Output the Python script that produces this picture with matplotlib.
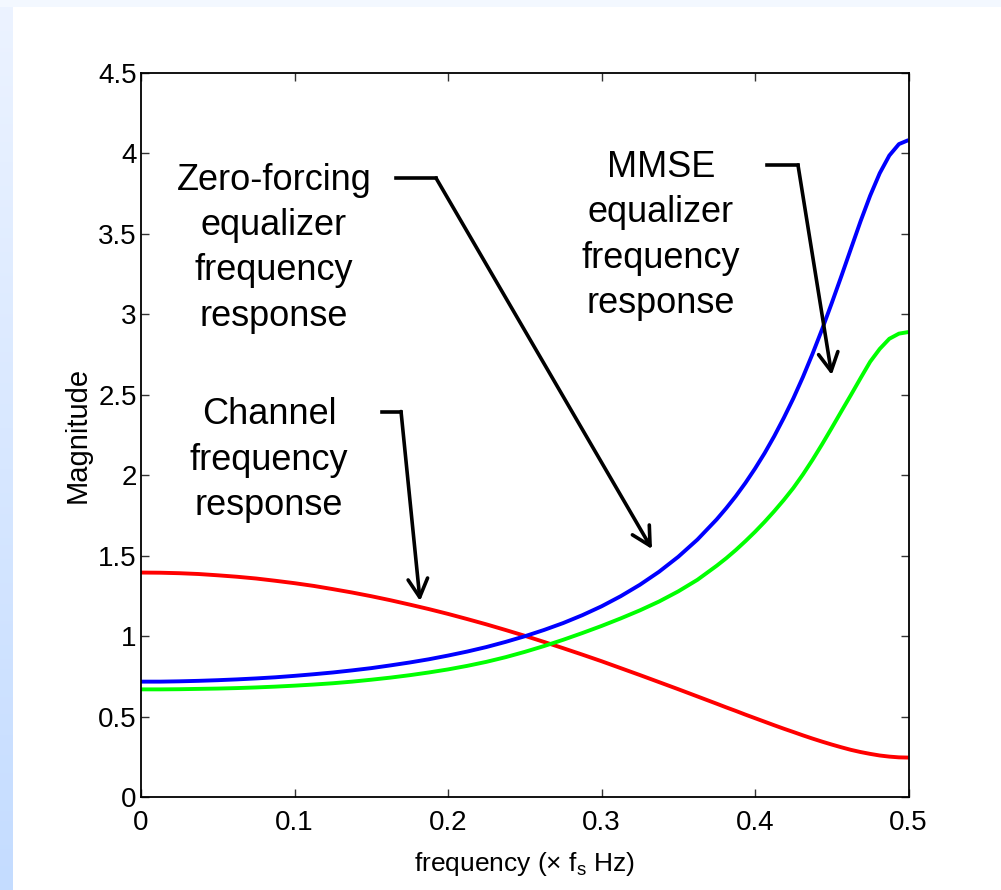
import numpy as np
import matplotlib
matplotlib.use('Agg')
from matplotlib import pyplot as plt
from matplotlib import font_manager
from matplotlib.patches import Rectangle

# frequency grid (x fs Hz)
freq = [0.0, 0.0125, 0.025, 0.0375, 0.05, 0.0625, 0.075, 0.0875, 0.1, 0.1125,
        0.125, 0.1375, 0.15, 0.1625, 0.175, 0.1875, 0.2, 0.2125, 0.225, 0.2375,
        0.25, 0.2625, 0.275, 0.2875, 0.3, 0.3125, 0.325, 0.3375, 0.35, 0.3625,
        0.375, 0.38125, 0.3875, 0.39375, 0.4, 0.40625, 0.4125, 0.41875, 0.425,
        0.43125, 0.4375, 0.44375, 0.45, 0.45625, 0.4625, 0.46875, 0.475,
        0.48125, 0.4875, 0.49375, 0.5]

channel = [1.395, 1.394, 1.391, 1.386, 1.378, 1.369, 1.358, 1.344, 1.329, 1.312,
           1.292, 1.271, 1.248, 1.223, 1.196, 1.168, 1.138, 1.106, 1.073, 1.038,
           1.002, 0.964, 0.925, 0.885, 0.844, 0.801, 0.758, 0.714, 0.670, 0.625,
           0.580, 0.557, 0.535, 0.512, 0.490, 0.468, 0.446, 0.4245, 0.404,
           0.383, 0.363, 0.344, 0.326, 0.309, 0.293, 0.2795, 0.268,
           0.258, 0.251, 0.2464, 0.245]

zero_forcing = [0.717, 0.717, 0.719, 0.722, 0.726, 0.731, 0.737, 0.744, 0.753, 0.763,
                0.774, 0.787, 0.801, 0.818, 0.836, 0.856, 0.879, 0.904, 0.932, 0.964,
                0.999, 1.038, 1.081, 1.130, 1.185, 1.248, 1.319, 1.400, 1.493, 1.600,
                1.725, 1.795, 1.870, 1.952, 2.041, 2.137, 2.242, 2.356, 2.478,
                2.611, 2.755, 2.908, 3.070, 3.237, 3.408, 3.578, 3.737,
                3.877, 3.987, 4.058, 4.083]

mmse = [0.669, 0.669, 0.670, 0.672, 0.674, 0.677, 0.681, 0.686, 0.692, 0.699,
        0.707, 0.717, 0.729, 0.742, 0.757, 0.774, 0.793, 0.815, 0.840, 0.869,
        0.902, 0.938, 0.977, 1.019, 1.063, 1.110, 1.160, 1.215, 1.278, 1.350,
        1.437, 1.484, 1.535, 1.590, 1.648, 1.710, 1.776, 1.846, 1.921,
        2.005, 2.096, 2.193, 2.294, 2.397, 2.499, 2.603, 2.705,
        2.785, 2.848, 2.880, 2.890]

xticks = [0, 0.1, 0.2, 0.3, 0.4, 0.5]
xtick_labels = ['0', '0.1', '0.2', '0.3', '0.4', '0.5']
yticks = [0, 0.5, 1, 1.5, 2, 2.5, 3, 3.5, 4, 4.5]
ytick_labels = ['0', '0.5', '1', '1.5', '2', '2.5', '3', '3.5', '4', '4.5']

names = {f.name for f in font_manager.fontManager.ttflist}
tick_font = 'Liberation Sans Narrow' if 'Liberation Sans Narrow' in names else 'Liberation Sans'

plt.rcParams['font.family'] = ['Liberation Sans', 'DejaVu Sans']
plt.rcParams['mathtext.fontset'] = 'custom'
plt.rcParams['mathtext.rm'] = 'Liberation Sans'
plt.rcParams['mathtext.it'] = 'Liberation Sans'

W, H = 1001, 890
fig = plt.figure(figsize=(W / 100, H / 100), dpi=100)
fig.patch.set_facecolor('white')

# slide background: pale strip on top, blue gradient on the left
fig.patches.append(Rectangle((0, 1 - 7 / H), 1, 7 / H, transform=fig.transFigure,
                             facecolor='#f3f8ff', edgecolor='none', zorder=0))
bg = fig.add_axes([0, 0, 13 / W, 1 - 7 / H])
grad = np.linspace(0, 1, 256).reshape(-1, 1)
top_c = np.array([236, 243, 255]) / 255
bot_c = np.array([196, 220, 255]) / 255
img = top_c[None, None, :] * (1 - grad[:, :, None]) + bot_c[None, None, :] * grad[:, :, None]
bg.imshow(img, aspect='auto', extent=[0, 1, 0, 1])
bg.set_axis_off()

ax = fig.add_axes([141 / W, 1 - 797 / H, 767.5 / W, 724 / H])
for ys, c in [(channel, '#ff0000'), (zero_forcing, '#0000ff'), (mmse, '#00ff00')]:
    ax.plot(freq, ys, color=c, lw=2.8, solid_capstyle='butt', solid_joinstyle='round')

ax.set_xlim(0, 0.5)
ax.set_ylim(0, 4.5)
ax.set_xticks(xticks)
ax.set_xticklabels(xtick_labels, fontfamily=tick_font, fontsize=20)
ax.set_yticks(yticks)
ax.set_yticklabels(ytick_labels, fontfamily=tick_font, fontsize=20)
ax.tick_params(direction='in', length=6, width=1, color='#333333',
               top=True, right=True)
ax.tick_params(axis='x', pad=9)
ax.tick_params(axis='y', pad=3)
for s in ax.spines.values():
    s.set_linewidth(1.3)

ax.set_xlabel('frequency (\u00d7 f$_{\\rm s}$ Hz)', fontsize=19)
ax.xaxis.set_label_coords(0.5, -0.073)
ax.set_ylabel('Magnitude', fontsize=21)
ax.yaxis.set_label_coords(-0.064, 0.5)

# annotations
txt = dict(fontsize=26, ha='center', va='center', linespacing=1.38)
ax.text(0.0866, 3.41, 'Zero-forcing\nequalizer\nfrequency\nresponse', **txt)
ax.text(0.0834, 2.094, 'Channel\nfrequency\nresponse', **txt)
ax.text(0.3388, 3.49, 'MMSE\nequalizer\nfrequency\nresponse', **txt)

arrows = [
    ([0.1661, 0.1922], 3.847, (0.3329, 1.541)),
    ([0.157, 0.1694], 2.396, (0.1818, 1.218)),
    ([0.4078, 0.428], 3.928, (0.450, 2.623)),
]
for xs, y0, tip in arrows:
    ax.plot(xs, [y0, y0], color='black', lw=2.6, solid_capstyle='projecting')
    ax.annotate('', xy=tip, xytext=(xs[1], y0),
                arrowprops=dict(arrowstyle='->,head_length=0.6,head_width=0.32',
                                mutation_scale=22, lw=2.6, color='black',
                                shrinkA=0, shrinkB=0))

fig.savefig('out.png', dpi=100)
